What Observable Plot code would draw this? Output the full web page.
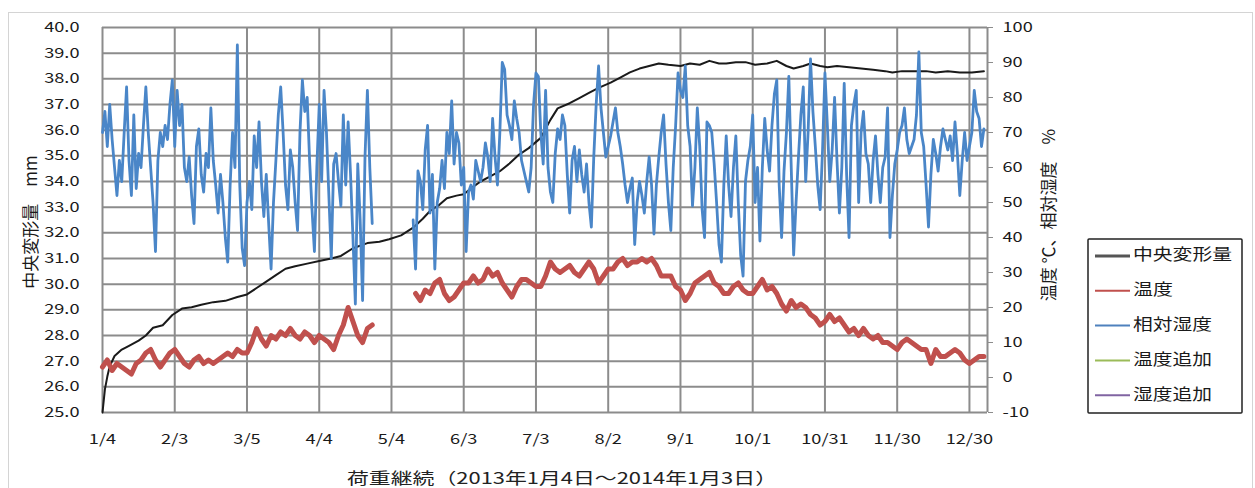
<!DOCTYPE html>
<html><head><meta charset="utf-8">
<script src="https://cdn.jsdelivr.net/npm/d3@7"></script>
<script src="https://cdn.jsdelivr.net/npm/@observablehq/plot@0.6"></script>
<style>
body{margin:0;background:#fff;}
#chart{position:relative;width:1255px;height:488px;overflow:hidden;background:#fff;}
</style></head><body><div id="chart"></div>
<script>
// ---- data ----
const startDate = "2013-01-04";
const xTickDates = ["2013-01-04","2013-02-03","2013-03-05","2013-04-04","2013-05-04","2013-06-03","2013-07-03","2013-08-02","2013-09-01","2013-10-01","2013-10-31","2013-11-30","2013-12-30"];
const xTickLabels = ["1/4","2/3","3/5","4/4","5/4","6/3","7/3","8/2","9/1","10/1","10/31","11/30","12/30"];
const leftTicks = [25,26,27,28,29,30,31,32,33,34,35,36,37,38,39,40];
const rightTicks = [-10,0,10,20,30,40,50,60,70,80,90,100];

// 中央変形量 (mm): day offset from start, value
const defDays = [0,1,2,3,5,8,11,15,18,21,25,29,33,37,41,46,51,56,60,64,68,72,76,80,85,90,95,99,104,110,115,119,124,129,133,136,140,143,147,150,154,157,161,165,169,173,177,182,186,189,194,198,202,206,211,215,219,223,227,231,235,240,244,248,252,256,259,263,267,271,276,280,284,287,291,294,298,301,305,310,315,320,325,328,332,337,342,346,351,356,361,366];
const defValues = [25.0,25.9,26.4,26.8,27.2,27.45,27.6,27.8,28.0,28.3,28.4,28.8,29.05,29.1,29.2,29.3,29.35,29.5,29.6,29.85,30.1,30.35,30.6,30.7,30.8,30.9,31.0,31.1,31.4,31.6,31.65,31.75,31.9,32.2,32.55,32.85,33.1,33.35,33.45,33.5,33.8,34.0,34.2,34.4,34.7,35.05,35.3,35.7,36.4,36.85,37.05,37.25,37.45,37.65,37.85,38.05,38.25,38.4,38.5,38.6,38.55,38.5,38.6,38.55,38.7,38.6,38.6,38.65,38.65,38.55,38.6,38.7,38.5,38.4,38.5,38.6,38.5,38.45,38.5,38.45,38.4,38.35,38.3,38.25,38.3,38.3,38.3,38.25,38.3,38.25,38.25,38.3];

// 温度 (℃): readings every 2 days, two segments
const tempStep = 2;
const temp1Start = 0;
const temp1 = [3,5,2,4,3,2,1,4,5,7, 8,5,3,5,7,8,6,4,3,5, 6,4,5,4,5,6,7,6,8,7, 7,10,14,11,9,12,11,13,12,14, 12,11,13,12,10,12,11,10,8,12, 15,20,16,12,10,14,15];
const temp2Start = 130;
const temp2 = [24,22,25,24,27,28,24,22,23,25, 27,27,29,27,28,31,29,30,27,25, 23,26,28,28,27,26,26,29,33,31, 30,31,32,30,29,31,33,31,27,29, 31,31,33,34,32,33,33,34,33,34, 32,29,29,29,26,25,22,24,27,28, 29,30,27,26,24,24,26,27,25,24, 24,26,28,25,26,24,21,19,22,20, 21,20,18,17,15,16,18,16,17,15, 13,14,12,14,12,11,12,10,10,9, 8,10,11,10,9,8,8,4,8,6, 6,7,8,7,5,4,5,6,6];

// 相対湿度 (%): daily readings, two segments
const hum1Start = 0;
const hum1 = [70,76,66,78,68,60,52,62,56,70, 83,62,52,75,54,64,60,72,83,70, 60,50,36,62,70,66,72,68,78,85, 66,82,72,78,60,56,63,52,44,66, 71,58,53,64,60,77,62,55,47,58, 50,40,33,55,70,60,95,55,37,32, 50,56,48,69,60,73,56,46,58,44, 31,50,62,75,83,70,55,48,65,60, 50,42,70,85,76,80,62,48,36,60, 78,56,82,70,52,34,61,64,56,49, 75,55,73,58,40,21,61,45,22,63, 82,60,44];
const hum2Start = 129;
const hum2 = [45,31,59,56,48,65,72,47,58,31, 50,54,62,54,70,64,79,61,70,67, 55,60,36,53,55,51,62,59,56,60, 67,63,56,74,63,55,70,90,88,75, 72,68,79,74,70,62,59,56,53,60, 78,87,
 86,70,61,82,60,53,50,64,71,68, 75,72,58,47,62,66,56,65,58,53, 61,50,43,63,78,89,77,70,63,66, 69,73,77,70,66,61,55,50,54,57, 38,50,56,52,47,56,63,55,41,55, 63,70,75,61,50,42,60,72,87,82, 80,89,72,66,49,60,77,66,48,40, 73,72,70,61,50,38,33,55,69,55, 46,60,69,50,35,29,56,62,
 66,75,50,60,39,60,74,65,59,72, 81,85,55,40,59,70,86,60,35,50, 63,75,83,56,70,91,76,66,55,48, 65,87,72,56,65,80,62,47,60,84, 58,40,72,78,82,50,70,76,64,61, 50,62,69,58,50,60,63,77,40,52, 61,65,70,72,77,68,64,66,68,75, 93,70,66,55,43,58,68,64,59,66, 71,68,65,69,62,73,64,52,62,70, 62,66,70,82,76,74,66,71];

const legendLabels = ["中央変形量","温度","相対湿度","温度追加","湿度追加"];
const legendColors = ["#555555","#C0504D","#4F81BD","#9BBB59","#8064A2"];

// ---- helpers ----
const DAY = 864e5;
const t0 = Date.parse(startDate + "T00:00:00Z");
const dateOf = d => new Date(t0 + d * DAY);
const toLeft = v => 25 + (v + 10) * 15 / 110;
const fromLeft = y => (y - 25) * 110 / 15 - 10;
const tickDates = xTickDates.map(s => new Date(s + "T00:00:00Z"));
const labelMap = new Map(tickDates.map((d, i) => [+d, xTickLabels[i]]));
const xEnd = dateOf(367.5);

const defData = defDays.map((d, i) => ({date: dateOf(d), y: defValues[i]}));
const tempData = [
  ...temp1.map((v, i) => ({date: dateOf(temp1Start + i * tempStep), y: toLeft(v), s: 1})),
  ...temp2.map((v, i) => ({date: dateOf(temp2Start + i * tempStep), y: toLeft(v), s: 2}))
];
const humData = [
  ...hum1.map((v, i) => ({date: dateOf(hum1Start + i), y: toLeft(v), s: 1})),
  ...hum2.map((v, i) => ({date: dateOf(hum2Start + i), y: toLeft(v), s: 2}))
];

const FONT = "'Noto Sans CJK JP', 'Noto Sans', sans-serif";
const GRID = "#8c8c8c";

const plot = Plot.plot({
  width: 1255, height: 488,
  marginTop: 27, marginBottom: 76, marginLeft: 102, marginRight: 268,
  style: {fontFamily: FONT, fontSize: "14px", color: "#1a1a1a", background: "transparent", overflow: "visible"},
  x: {type: "utc", domain: [dateOf(0), xEnd]},
  y: {domain: [25, 40]},
  marks: [
    Plot.ruleY(leftTicks, {stroke: GRID, strokeWidth: 2}),
    Plot.ruleX(tickDates, {stroke: GRID, strokeWidth: 2}),
    Plot.ruleX([xEnd], {stroke: GRID, strokeWidth: 2}),
    Plot.axisY(leftTicks, {anchor: "left", tickSize: 0, tickPadding: 23, tickFormat: d => d.toFixed(1), label: null}),
    Plot.axisY(rightTicks.map(toLeft), {anchor: "right", tickSize: 5, tickPadding: 10, stroke: GRID, tickFormat: d => String(Math.round(fromLeft(d))), label: null}),
    Plot.axisX(tickDates, {anchor: "bottom", tickSize: 0, tickPadding: 22, tickFormat: d => labelMap.get(+d), label: null}),
    Plot.line(defData, {x: "date", y: "y", stroke: "#1a1a1a", strokeWidth: 2}),
    Plot.line(tempData, {x: "date", y: "y", z: "s", stroke: "#C0504D", strokeWidth: 5, strokeLinejoin: "round"}),
    Plot.line(humData, {x: "date", y: "y", z: "s", stroke: "#4A86C8", strokeWidth: 2.8, strokeLinejoin: "round"})
  ]
});

const svg = d3.select(plot);
// stretch tick labels horizontally (reference text is horizontally stretched)
svg.selectAll('g[aria-label$="tick label"] text').each(function() {
  const t = this.getAttribute("transform");
  if (t) this.setAttribute("transform", t + " scale(1.3,1)");
});
svg.selectAll('g[aria-label$="tick label"]').attr("stroke", null).attr("fill", "#1a1a1a");

// outer border
svg.insert("rect", ":first-child").attr("x", 8.5).attr("y", 12.5).attr("width", 1244).attr("height", 500)
  .attr("fill", "#fff").attr("stroke", "#d4d4d4");

// axis titles
svg.append("text").attr("transform", "translate(32,222) rotate(-90)").attr("text-anchor", "middle")
  .attr("dominant-baseline", "middle").attr("font-family", FONT).attr("font-size", 17).attr("fill", "#1a1a1a")
  .text("中央変形量　mm");
svg.append("text").attr("transform", "translate(1050,215) rotate(-90)").attr("text-anchor", "middle")
  .attr("dominant-baseline", "middle").attr("font-family", FONT).attr("font-size", 17).attr("fill", "#1a1a1a")
  .text("温度 ℃、相対湿度　%");
svg.append("text").attr("x", 347).attr("y", 480).attr("text-anchor", "start").attr("dominant-baseline", "middle")
  .attr("font-family", FONT).attr("font-size", 16).attr("fill", "#222")
  .attr("textLength", 430).attr("lengthAdjust", "spacingAndGlyphs")
  .text("荷重継続（2013年1月4日～2014年1月3日）");

// legend
const lg = svg.append("g");
lg.append("rect").attr("x", 1088).attr("y", 239).attr("width", 154).attr("height", 174)
  .attr("fill", "#fff").attr("stroke", "#222").attr("stroke-width", 1.5).attr("rx", 1);
const lgWidths = [99, 40, 79, 79, 79];
legendLabels.forEach((lab, i) => {
  const y = 256 + i * 34.8;
  lg.append("line").attr("x1", 1095).attr("x2", 1130).attr("y1", y).attr("y2", y)
    .attr("stroke", legendColors[i]).attr("stroke-width", i === 0 ? 3 : 2);
  lg.append("text").attr("x", 1133).attr("y", y).attr("text-anchor", "start").attr("dominant-baseline", "middle")
    .attr("font-family", FONT).attr("font-size", 16).attr("fill", "#1a1a1a")
    .attr("textLength", lgWidths[i]).attr("lengthAdjust", "spacingAndGlyphs").text(lab);
});

document.getElementById("chart").appendChild(plot);
</script></body></html>
